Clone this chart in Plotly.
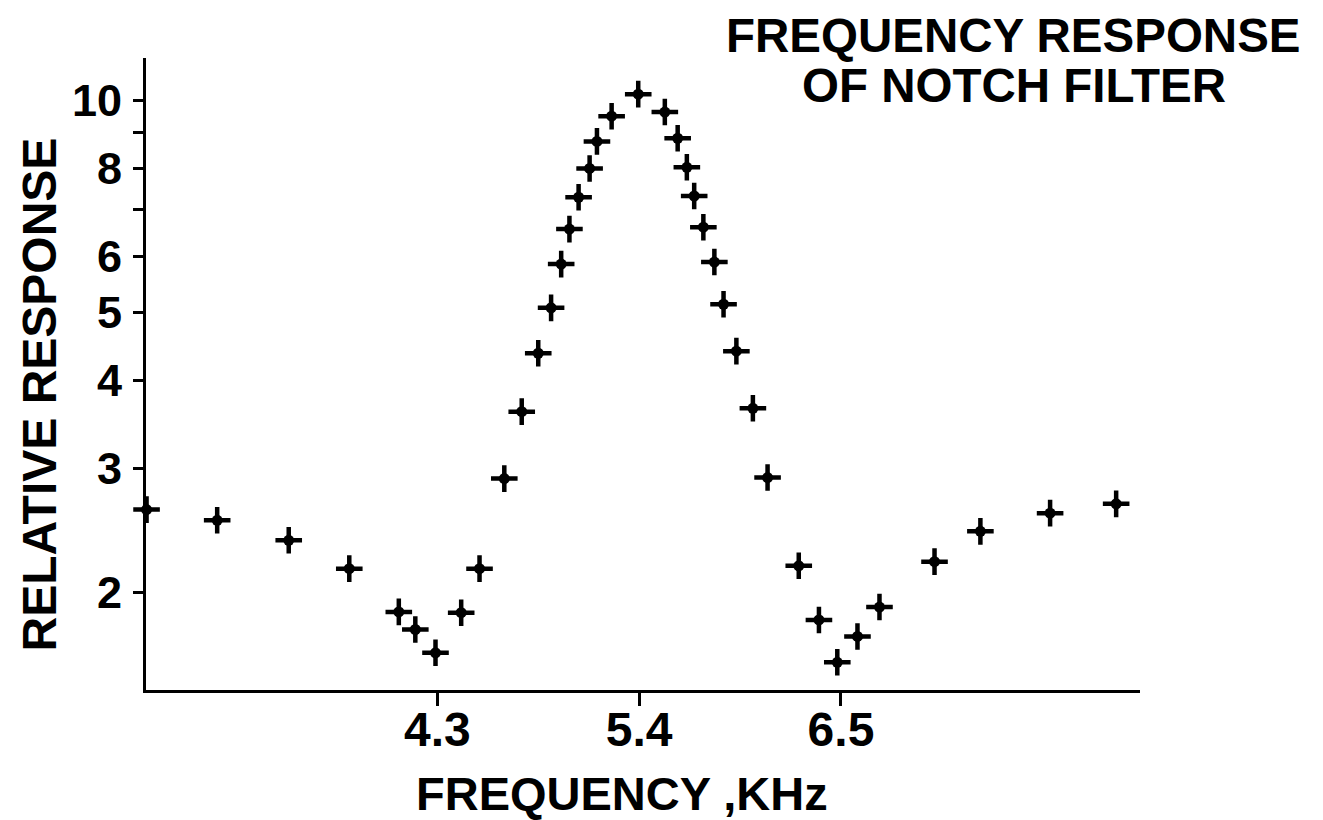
import plotly.graph_objects as go

# Frequency (kHz) and relative response
freq_khz = [2.715, 3.10, 3.49, 3.82, 4.09, 4.18, 4.29, 4.43, 4.53, 4.665,
            4.76, 4.85, 4.92, 4.975, 5.02, 5.07, 5.13, 5.17, 5.25, 5.395,
            5.54, 5.61, 5.66, 5.70, 5.75, 5.81, 5.86, 5.93, 6.02, 6.10,
            6.27, 6.38, 6.48, 6.59, 6.71, 7.01, 7.26, 7.64, 8.00]
response = [2.62, 2.53, 2.37, 2.16, 1.875, 1.77, 1.64, 1.87, 2.16, 2.90,
            3.61, 4.37, 5.07, 5.85, 6.56, 7.28, 8.00, 8.74, 9.49, 10.2,
            9.62, 8.83, 8.03, 7.31, 6.60, 5.89, 5.13, 4.40, 3.65, 2.91,
            2.18, 1.826, 1.59, 1.73, 1.905, 2.21, 2.44, 2.59, 2.67]

x_tickvals = [4.3, 5.4, 6.5]
x_ticktext = ["4.3", "5.4", "6.5"]
y_tickvals = [2, 3, 4, 5, 6, 7, 8, 9, 10]
y_ticktext = ["2", "3", "4", "5", "6", "", "8", "", "10"]

title_lines = ["FREQUENCY RESPONSE", "OF NOTCH FILTER"]
x_title = "FREQUENCY ,KHz"
y_title = "RELATIVE RESPONSE"

FONT = "Liberation Sans"

fig = go.Figure()
fig.add_trace(go.Scatter(
    x=freq_khz, y=response, mode="markers", cliponaxis=False,
    marker=dict(symbol="cross-thin", size=19, color="black",
                line=dict(color="black", width=4.5)),
    showlegend=False, hoverinfo="skip"))
fig.add_trace(go.Scatter(
    x=freq_khz, y=response, mode="markers", cliponaxis=False,
    marker=dict(symbol="circle", size=11, color="black", line=dict(width=0)),
    showlegend=False))

fig.update_layout(
    width=1323, height=820,
    margin=dict(l=146, r=183, t=58, b=130),
    paper_bgcolor="white", plot_bgcolor="white",
    font=dict(family=FONT, color="black", size=46, weight="bold"),
    showlegend=False,
    xaxis=dict(range=[2.712, 8.13], tickvals=x_tickvals, ticktext=x_ticktext,
               ticks="outside", ticklen=13, tickwidth=2.5, tickcolor="black",
               ticklabelstandoff=-18,
               showline=True, linecolor="black", linewidth=3,
               showgrid=False, zeroline=False,
               tickfont=dict(family=FONT, size=48, weight="bold")),
    yaxis=dict(type="log", range=[0.162, 1.06], tickvals=y_tickvals, ticktext=y_ticktext,
               ticks="outside", ticklen=10, tickwidth=2.5, tickcolor="black",
               ticklabelstandoff=2,
               showline=True, linecolor="black", linewidth=3,
               showgrid=False, zeroline=False,
               tickfont=dict(family=FONT, size=45, weight="bold")),
)

fig.add_annotation(text=title_lines[0], xref="paper", yref="paper", x=0.873, y=1.035,
                   xanchor="center", yanchor="middle", showarrow=False,
                   font=dict(family=FONT, size=47.5, weight="bold"))
fig.add_annotation(text=title_lines[1], xref="paper", yref="paper", x=0.873, y=0.957,
                   xanchor="center", yanchor="middle", showarrow=False,
                   font=dict(family=FONT, size=47.5, weight="bold"))
fig.add_annotation(text=x_title, xref="paper", yref="paper", x=0.479, y=-0.164,
                   xanchor="center", yanchor="middle", showarrow=False,
                   font=dict(family=FONT, size=47, weight="bold"))
fig.add_annotation(text=y_title, xref="paper", yref="paper", x=-0.107, y=0.467,
                   xanchor="center", yanchor="middle", showarrow=False, textangle=-90,
                   font=dict(family=FONT, size=48, weight="bold"))

fig.write_html("out.html", config={"displayModeBar": False},
               post_script="document.body.style.margin='0';document.body.style.overflow='hidden';")
